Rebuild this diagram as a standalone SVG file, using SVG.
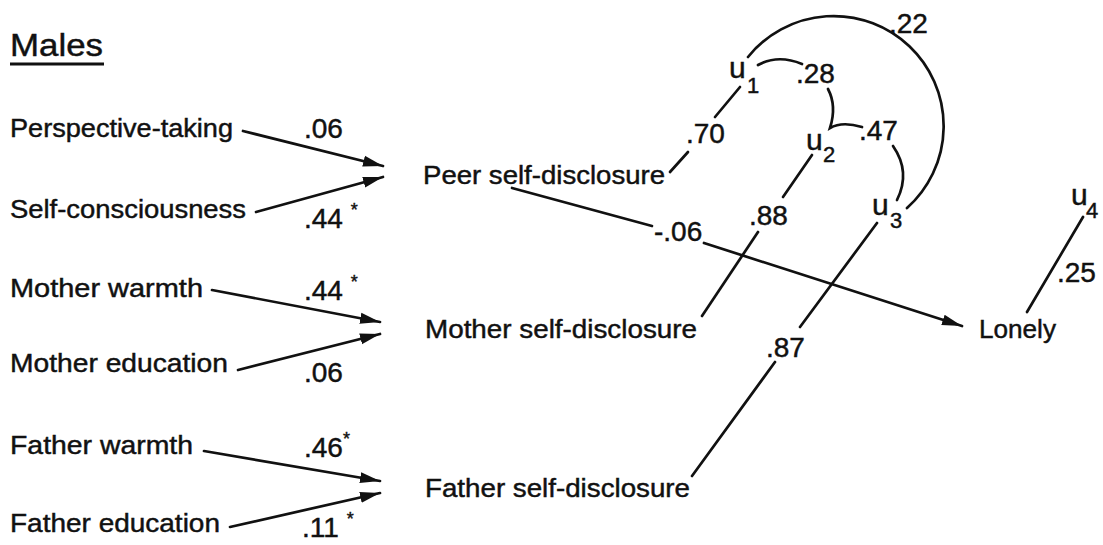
<svg xmlns="http://www.w3.org/2000/svg" width="1103" height="545" viewBox="0 0 1103 545">
<style>
text{font-family:"Liberation Sans",Arial,sans-serif;fill:#111;stroke:#111;stroke-width:0.45;font-size:26px}
.t{font-size:31px}
.n{font-size:28px}
.u{font-size:30px}
.s{font-size:22px}
.ast{font-size:18px}
.ln{stroke:#111;stroke-width:2.7;fill:none;stroke-linecap:round}
</style>
<defs>
<marker id="ah" markerUnits="userSpaceOnUse" markerWidth="22" markerHeight="14" refX="20" refY="7" orient="auto">
<path d="M0,1.5 L20,7 L0,12.5 Z" fill="#111"/>
</marker>
</defs>
<rect width="1103" height="545" fill="#fff"/>
<g id="title">
<text class="t" x="10" y="56" textLength="93" lengthAdjust="spacingAndGlyphs">Males</text>
<line x1="10" y1="64" x2="104" y2="64" stroke="#111" stroke-width="3"/>
</g>
<g id="n-perspective"><text x="10" y="137" textLength="223" lengthAdjust="spacingAndGlyphs">Perspective-taking</text></g>
<g id="n-selfcons"><text x="10" y="218" textLength="236" lengthAdjust="spacingAndGlyphs">Self-consciousness</text></g>
<g id="n-mwarmth"><text x="10" y="297" textLength="193" lengthAdjust="spacingAndGlyphs">Mother warmth</text></g>
<g id="n-medu"><text x="10" y="372" textLength="218" lengthAdjust="spacingAndGlyphs">Mother education</text></g>
<g id="n-fwarmth"><text x="10" y="454" textLength="183" lengthAdjust="spacingAndGlyphs">Father warmth</text></g>
<g id="n-fedu"><text x="10" y="532" textLength="210" lengthAdjust="spacingAndGlyphs">Father education</text></g>
<g id="n-peer"><text x="423" y="184" textLength="242" lengthAdjust="spacingAndGlyphs">Peer self-disclosure</text></g>
<g id="n-mother"><text x="425" y="338" textLength="272" lengthAdjust="spacingAndGlyphs">Mother self-disclosure</text></g>
<g id="n-father"><text x="425" y="497" textLength="265" lengthAdjust="spacingAndGlyphs">Father self-disclosure</text></g>
<g id="n-lonely"><text x="979" y="338" textLength="77" lengthAdjust="spacingAndGlyphs">Lonely</text></g>
<g id="n-u1"><text class="u" x="729" y="78">u</text><text class="s" x="747" y="93">1</text></g>
<g id="n-u2"><text class="u" x="806" y="150">u</text><text class="s" x="823" y="162">2</text></g>
<g id="n-u3"><text class="u" x="872" y="215">u</text><text class="s" x="890" y="228">3</text></g>
<g id="n-u4"><text class="u" x="1071" y="205">u</text><text class="s" x="1086" y="218">4</text></g>
<g id="connectors">
<line class="ln" x1="243" y1="131" x2="383" y2="166" marker-end="url(#ah)"/>
<line class="ln" x1="256" y1="212" x2="383" y2="177" marker-end="url(#ah)"/>
<line class="ln" x1="212" y1="290" x2="380" y2="322" marker-end="url(#ah)"/>
<line class="ln" x1="238" y1="370" x2="380" y2="334" marker-end="url(#ah)"/>
<line class="ln" x1="204" y1="451" x2="380" y2="481" marker-end="url(#ah)"/>
<line class="ln" x1="230" y1="527" x2="380" y2="493" marker-end="url(#ah)"/>
<line class="ln" x1="512" y1="188" x2="652" y2="226"/>
<line class="ln" x1="704" y1="243" x2="962" y2="326" marker-end="url(#ah)"/>
<line class="ln" x1="670" y1="172" x2="688" y2="152"/>
<line class="ln" x1="715" y1="117" x2="740" y2="87"/>
<line class="ln" x1="812" y1="155" x2="783" y2="197"/>
<line class="ln" x1="758" y1="232" x2="702" y2="316"/>
<line class="ln" x1="877" y1="223" x2="800" y2="327"/>
<line class="ln" x1="775" y1="362" x2="692" y2="476"/>
<line class="ln" x1="1083" y1="217" x2="1027" y2="312"/>
<path class="ln" d="M758,65 Q778,54 802,64"/>
<path class="ln" d="M828,89 Q837,106 830,128 Q842,121 862,127"/>
<path class="ln" d="M893,146 Q911,172 897,200"/>
<path class="ln" d="M748,57 A110,110 0 1 1 907,208"/>
</g>
<g id="labels">
<text class="n" x="304" y="138">.06</text>
<text class="n" x="304" y="228">.44 <tspan class="ast" dy="-12">*</tspan></text>
<text class="n" x="304" y="300">.44 <tspan class="ast" dy="-12">*</tspan></text>
<text class="n" x="304" y="382">.06</text>
<text class="n" x="304" y="457">.46<tspan class="ast" dy="-12">*</tspan></text>
<text class="n" x="302" y="537">.11 <tspan class="ast" dy="-12">*</tspan></text>
<text class="n" x="686" y="143">.70</text>
<text class="n" x="749" y="225">.88</text>
<text class="n" x="654" y="241">-.06</text>
<text class="n" x="766" y="357">.87</text>
<text class="n" x="796" y="83">.28</text>
<text class="n" x="859" y="140">.47</text>
<text class="n" x="889" y="33">.22</text>
<text class="n" x="1057" y="282">.25</text>
</g>
</svg>
